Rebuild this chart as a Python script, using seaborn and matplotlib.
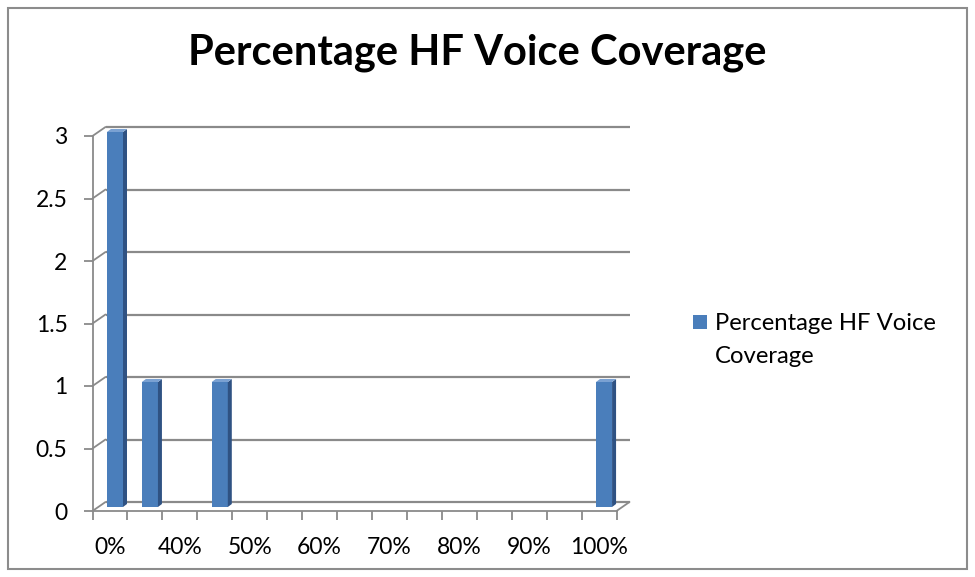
import matplotlib
matplotlib.use("Agg")
import matplotlib.pyplot as plt
from matplotlib.patches import Polygon, Rectangle
from matplotlib.transforms import ScaledTranslation, IdentityTransform
import seaborn as sns

# Coverage buckets (every other one is labelled on the axis) and counts
categories = ["0%", "33%", "40%", "45%", "50%", "55%", "60%", "65%",
              "70%", "75%", "80%", "85%", "90%", "95%", "100%"]
counts = [3, 1, 0, 1, 0, 0, 0, 0, 0, 0, 0, 0, 0, 0, 1]
y_ticks = [0, 0.5, 1, 1.5, 2, 2.5, 3]
y_tick_labels = ["0", "0.5", "1", "1.5", "2", "2.5", "3"]
legend_lines = ["Percentage HF Voice", "Coverage"]
title = "Percentage HF Voice Coverage"

W, H = 975, 577
DPI = 100
FONT = "Lato"
GRID = "#8a8a8a"
BAR_FRONT = "#4a7ebb"
BAR_SIDE = "#2f5283"
BAR_TOP = "#7aa1d2"
LABEL_SIZE = 16.5

sns.set_theme(style="white")
plt.rcParams["font.family"] = [FONT, "DejaVu Sans"]

fig = plt.figure(figsize=(W / DPI, H / DPI), dpi=DPI)
fig.patch.set_facecolor("white")


def fx(px):
    return px / W


def fy(py):
    return 1 - py / H


# plot area: front axis edges in pixels
left_px, right_px, top_px, bot_px = 92.5, 616.5, 136, 511
ax = fig.add_axes([fx(left_px), fy(bot_px), fx(right_px - left_px), (bot_px - top_px) / H])
ax.set_facecolor("none")

sns.barplot(x=categories, y=counts, order=categories, color=BAR_FRONT,
            saturation=1, width=0.46, ax=ax, zorder=3)
ax.set_xlim(-0.5, len(categories) - 0.5)
ax.set_ylim(0, 3)
ax.set_xlabel("")
ax.set_ylabel("")

# depth of the back wall / floor in pixels
wall_dx, wall_dy = 13, 9
back = ax.transData + ScaledTranslation(wall_dx / DPI, wall_dy / DPI, fig.dpi_scale_trans)

x0, x1 = ax.get_xlim()
for lvl in y_ticks:
    # gridline on the back wall
    ax.plot([x0, x1], [lvl, lvl], color=GRID, lw=1.6, transform=back,
            clip_on=False, zorder=1, solid_capstyle="butt")
    # side wall edge from the value axis to the back wall
    px, py = ax.transData.transform((x0, lvl))
    ax.plot([px, px + wall_dx], [py, py + wall_dy], color=GRID, lw=1.3,
            transform=IdentityTransform(), clip_on=False, zorder=1)

# right edge of the floor
px, py = ax.transData.transform((x1, 0))
ax.plot([px, px + wall_dx], [py, py + wall_dy], color=GRID, lw=1.3,
        transform=IdentityTransform(), clip_on=False, zorder=1)

# bars sit in the middle of the floor depth and get a small 3D body
bar_shift = ax.transData + ScaledTranslation(5 / DPI, 4 / DPI, fig.dpi_scale_trans)
bdx, bdy = 4, 3
for patch in list(ax.patches):
    patch.set_transform(bar_shift)
    patch.set_edgecolor("none")
    patch.set_clip_on(False)
    if patch.get_height() <= 0:
        patch.set_visible(False)
        continue
    bb = patch.get_window_extent()
    side = Polygon([(bb.x1, bb.y0), (bb.x1, bb.y1), (bb.x1 + bdx, bb.y1 + bdy),
                    (bb.x1 + bdx, bb.y0 + bdy)], closed=True,
                   transform=IdentityTransform(), facecolor=BAR_SIDE,
                   edgecolor="none", zorder=3, clip_on=False)
    top = Polygon([(bb.x0, bb.y1), (bb.x1, bb.y1), (bb.x1 + bdx, bb.y1 + bdy),
                   (bb.x0 + bdx, bb.y1 + bdy)], closed=True,
                  transform=IdentityTransform(), facecolor=BAR_TOP,
                  edgecolor="none", zorder=3, clip_on=False)
    ax.add_artist(side)
    ax.add_artist(top)

# axes, ticks and labels
for s in ["top", "right"]:
    ax.spines[s].set_visible(False)
for s in ["left", "bottom"]:
    ax.spines[s].set_color(GRID)
    ax.spines[s].set_linewidth(1.3)
    ax.spines[s].set_zorder(2)

ax.set_yticks(y_ticks)
ax.set_yticklabels(y_tick_labels)
ax.tick_params(axis="y", which="major", length=6.5, width=1.3, color=GRID,
               direction="out", left=True, pad=11.5, labelsize=LABEL_SIZE,
               labelcolor="black")

ax.set_xticks(range(len(categories)))
ax.set_xticklabels([c if i % 2 == 0 else "" for i, c in enumerate(categories)])
ax.set_xticks([i - 0.5 for i in range(len(categories) + 1)], minor=True)
ax.tick_params(axis="x", which="major", length=0, pad=19, labelsize=LABEL_SIZE,
               labelcolor="black", bottom=True)
ax.tick_params(axis="x", which="minor", length=6.5, width=1.3, color=GRID,
               direction="out", bottom=True)
ax.grid(False)

# title
fig.text(fx(477), fy(64), title, ha="center", va="baseline",
         fontsize=30, fontweight="bold", color="black")

# legend: swatch plus a label wrapped over two lines
fig.patches.append(Rectangle((fx(693), fy(329)), 14 / W, 14 / H,
                             transform=fig.transFigure, facecolor=BAR_FRONT,
                             edgecolor="none"))
for line, base in zip(legend_lines, [330, 363]):
    fig.text(fx(715), fy(base), line, ha="left", va="baseline",
             fontsize=17.2, color="black")

# chart border
fig.patches.append(Rectangle((fx(8), fy(569)), 959 / W, 561 / H,
                             transform=fig.transFigure, facecolor="none",
                             edgecolor="#8c8c8c", lw=1.5))

fig.savefig("out.png", dpi=DPI)
